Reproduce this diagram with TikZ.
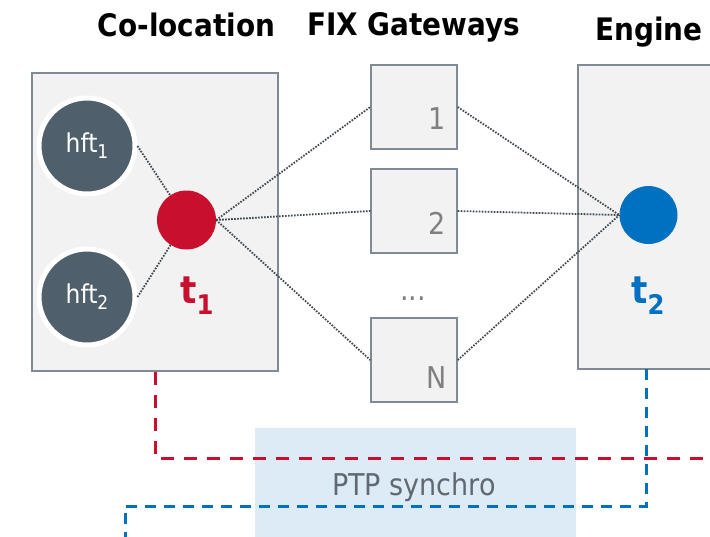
\documentclass[tikz,border=0pt]{standalone}
\usepackage{fontspec}
\setmainfont{DejaVu Sans Condensed}
\usetikzlibrary{calc}
\definecolor{boxfill}{RGB}{242,242,242}
\definecolor{boxline}{RGB}{128,138,148}
\definecolor{slate}{RGB}{79,95,107}
\definecolor{tred}{RGB}{200,16,46}
\definecolor{tblue}{RGB}{0,112,192}
\definecolor{ptpfill}{RGB}{221,235,247}
\definecolor{dotc}{RGB}{64,72,80}
\definecolor{numc}{RGB}{128,128,128}
\definecolor{ptptext}{RGB}{96,104,112}
\begin{document}
\begin{tikzpicture}[x=1pt,y=-1pt,
  greybox/.style={draw=boxline,line width=1.5pt,fill=boxfill,rectangle,inner sep=0pt},
  hftnode/.style={circle,fill=slate,draw=white,line width=5pt,minimum size=96pt,inner sep=0pt,text=white,font=\fontsize{26}{26}\selectfont},
  dotline/.style={draw=dotc,line width=1.8pt,dash pattern=on 1.6pt off 1.4pt},
  title/.style={font=\fontsize{31}{31}\selectfont\bfseries,anchor=base,inner sep=0pt},
  gwnum/.style={font=\fontsize{30}{30}\selectfont,text=numc,anchor=base east,inner sep=0pt},
  tlab/.style={font=\fontsize{38}{38}\selectfont\bfseries,anchor=base west,inner sep=0pt},
  reddash/.style={draw=tred,line width=3pt,dash pattern=on 13pt off 10pt},
  bluedash/.style={draw=tblue,line width=3pt,dash pattern=on 11pt off 8pt}]
\useasboundingbox (0,0) rectangle (710,536);
% PTP box
\node[fill=ptpfill,minimum width=321pt,minimum height=110pt,inner sep=0pt] (ptp) at (415.5,483) {};
\node[font=\fontsize{30}{30}\selectfont,text=ptptext,anchor=base,inner sep=0pt] (ptptxt) at (414,495) {PTP synchro};
% titles
\node[title] (tcolo) at (186.5,36.5) {Co-location};
\node[title] (tgw) at (413.5,35) {FIX Gateways};
\node[title] (teng) at (649,40) {Engine};
% boxes
\node[greybox,minimum width=246pt,minimum height=298pt] (colo) at (155,222) {};
\node[greybox,minimum width=162pt,minimum height=304pt] (eng) at (659,217) {};
\node[greybox,minimum width=86pt,minimum height=84pt] (gw1) at (414,107) {};
\node[greybox,minimum width=86pt,minimum height=84pt] (gw2) at (414,211) {};
\node[greybox,minimum width=86pt,minimum height=84pt] (gwN) at (414,360) {};
\node[gwnum] (n1) at (446,129) {1};
\node[gwnum] (n2) at (446,234) {2};
\node[gwnum] (nN) at (447,388) {N};
\node[font=\fontsize{30}{30}\selectfont,text=numc,inner sep=0pt,anchor=base] (dots) at (413,300) {...};
% circles
\node[hftnode] (hft1) at (87,146) {hft\raisebox{-6pt}{\fontsize{19}{19}\selectfont 1}};
\node[hftnode] (hft2) at (87,297) {hft\raisebox{-6pt}{\fontsize{19}{19}\selectfont 2}};
\node[circle,fill=tred,minimum size=59pt,inner sep=0pt] (t1) at (186.5,220) {};
\node[circle,fill=tblue,minimum size=58pt,inner sep=0pt] (t2) at (648.5,215) {};
\node[tlab,text=tred] (t1lab) at (180,303) {t\raisebox{-11pt}{\fontsize{27}{27}\selectfont 1}};
\node[tlab,text=tblue] (t2lab) at (631,303) {t\raisebox{-11pt}{\fontsize{27}{27}\selectfont 2}};
% dotted connectors
\draw[dotline] (hft1.east) -- (t1);
\draw[dotline] (hft2.east) -- (t1);
\draw[dotline] (t1.east) -- (gw1.west);
\draw[dotline] (t1.east) -- (gw2.west);
\draw[dotline] (t1.east) -- (gwN.west);
\draw[dotline] (gw1.east) -- (t2.west);
\draw[dotline] (gw2.east) -- (t2.west);
\draw[dotline] (gwN.east) -- (t2.west);
% PTP dashed lines
\coordinate (redend) at (712,458);
\coordinate (bluestart) at (646,369);
\coordinate (blueend) at (125,540);
\draw[reddash] (colo.south) |- (redend);
\draw[bluedash] (bluestart) -- (646,506) -| (blueend);
\end{tikzpicture}
\end{document}
